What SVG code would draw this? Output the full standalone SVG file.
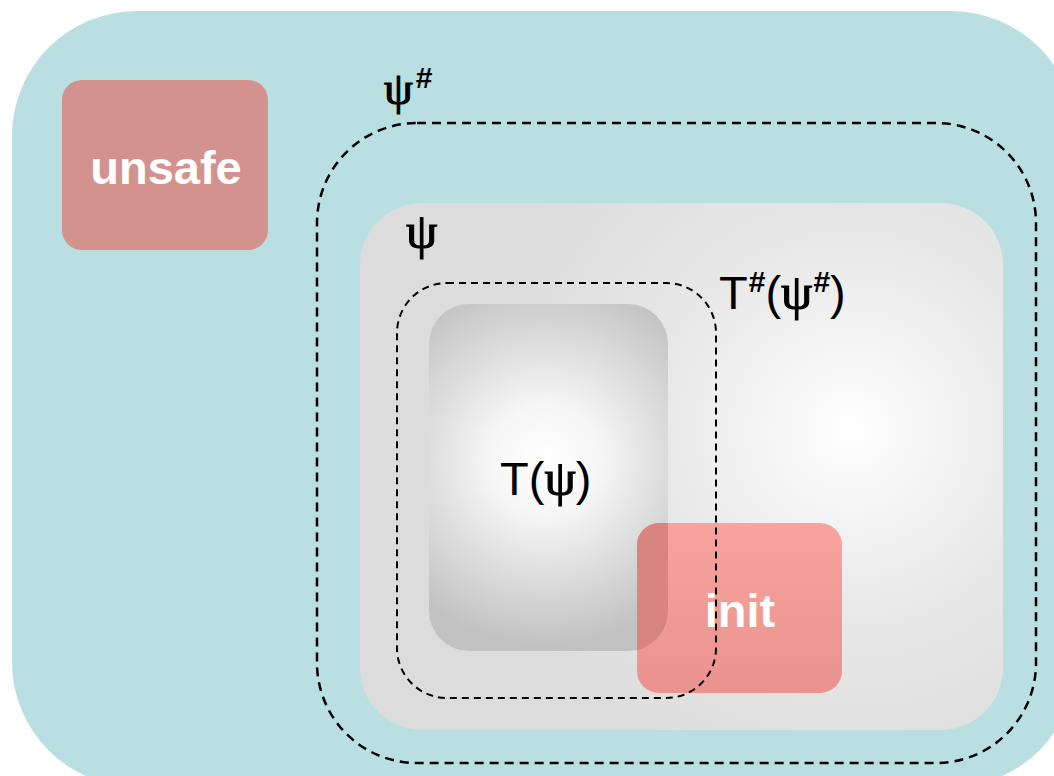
<svg xmlns="http://www.w3.org/2000/svg" width="1054" height="776" viewBox="0 0 1054 776">
  <style>
    .lbl { font-family: "Liberation Sans", Arial, sans-serif; fill: #000; }
    .psi { font-family: "Liberation Serif", "Times New Roman", serif; stroke: #000; stroke-width: 1.1; }
    .sup { font-family: "Liberation Sans", Arial, sans-serif; font-weight: bold; }
    .box { font-family: "Liberation Sans", Arial, sans-serif; font-weight: bold; fill: #fff; text-anchor: middle; }
    .dash { fill: none; stroke: #000; }
  </style>
  <defs>
    <radialGradient id="gPsi" gradientUnits="userSpaceOnUse" cx="850" cy="430" r="380">
      <stop offset="0" stop-color="#ffffff"/>
      <stop offset="0.5" stop-color="#e8e8e8"/>
      <stop offset="1" stop-color="#dcdcdc"/>
    </radialGradient>
    <radialGradient id="gT" gradientUnits="userSpaceOnUse" cx="545" cy="460" r="185">
      <stop offset="0" stop-color="#ffffff"/>
      <stop offset="0.3" stop-color="#f6f6f6"/>
      <stop offset="1" stop-color="#c2c2c2"/>
    </radialGradient>
    <linearGradient id="gInit" x1="0" y1="0" x2="0" y2="1">
      <stop offset="0" stop-color="#f9a39d"/>
      <stop offset="1" stop-color="#ea938e"/>
    </linearGradient>
    <clipPath id="initClip">
      <rect x="637" y="523" width="205" height="170" rx="22"/>
    </clipPath>
  </defs>

  <!-- state space -->
  <g id="space">
    <rect x="12" y="11" width="1064" height="776" rx="125" fill="#badfe2"/>
  </g>

  <g id="unsafe">
    <rect x="62" y="80" width="206" height="170" rx="20" fill="#d4928f"/>
    <text class="box" x="166" y="184" font-size="47">unsafe</text>
  </g>

  <g id="psi">
    <rect x="360" y="203" width="643" height="527" rx="62" fill="url(#gPsi)"/>
    <text class="lbl psi" x="406" y="248" font-size="50">ψ</text>
  </g>

  <g id="tpsi">
    <rect x="429" y="304" width="239" height="347" rx="40" fill="url(#gT)"/>
    <text class="lbl" x="500" y="495" font-size="47">T(<tspan class="psi" font-size="50">ψ</tspan>)</text>
  </g>

  <g id="init">
    <rect x="637" y="523" width="205" height="170" rx="22" fill="url(#gInit)"/>
    <!-- part of init lying inside T(ψ) -->
    <rect x="429" y="304" width="239" height="347" rx="40" fill="#d8847f" clip-path="url(#initClip)"/>
    <text class="box" x="740" y="627" font-size="47">init</text>
  </g>

  <!-- abstract over-approximations -->
  <g id="connectors">
    <g id="psi-sharp">
      <rect class="dash" x="317" y="123" width="719" height="640" rx="100" stroke-width="2.5" stroke-dasharray="9 6"/>
      <text class="lbl" x="384" y="104" font-size="44"><tspan class="psi" font-size="46">ψ</tspan><tspan class="sup" font-size="30" dx="3" dy="-16">#</tspan></text>
    </g>
    <g id="t-sharp">
      <rect class="dash" x="397" y="283" width="319" height="415" rx="50" stroke-width="2" stroke-dasharray="7 5"/>
      <text class="lbl" x="719" y="309" font-size="47">T<tspan class="sup" font-size="30" dx="1" dy="-17">#</tspan><tspan dy="17">(</tspan><tspan class="psi" font-size="50">ψ</tspan><tspan class="sup" font-size="30" dx="1" dy="-17">#</tspan><tspan dy="17">)</tspan></text>
    </g>
  </g>
</svg>
